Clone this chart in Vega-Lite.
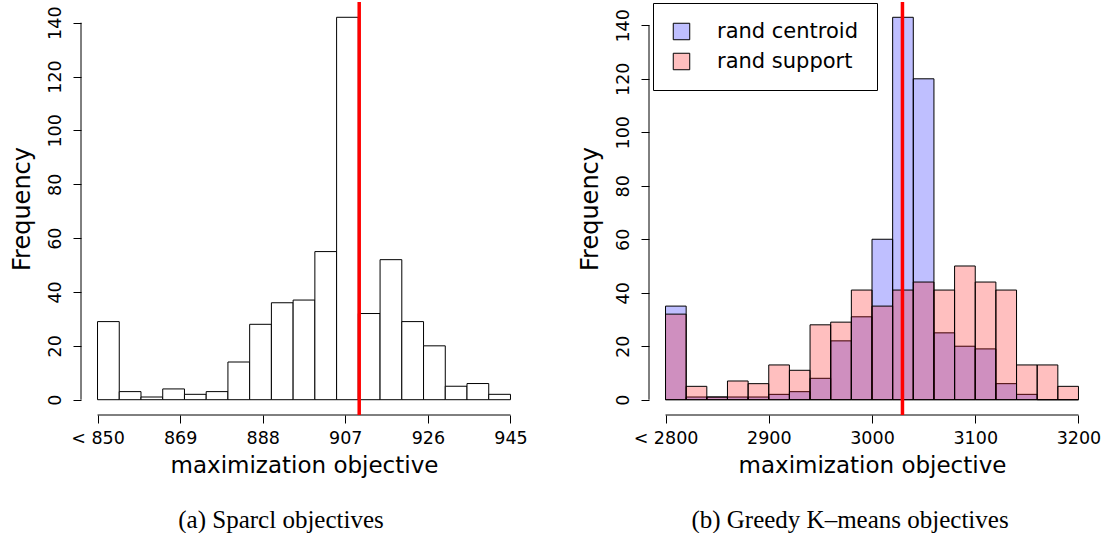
{
  "$schema": "https://vega.github.io/schema/vega-lite/v6.json",
  "background": "white",
  "padding": {"left": 10, "top": 0, "right": 0, "bottom": 0},
  "spacing": 50,
  "config": {
    "view": {"stroke": null},
    "axis": {
      "labelFont": "DejaVu Sans", "titleFont": "DejaVu Sans",
      "labelFontSize": 17.5, "titleFontSize": 23, "titleFontWeight": "normal",
      "labelColor": "black", "titleColor": "black", "tickColor": "black",
      "tickSize": 8, "tickWidth": 1, "grid": false, "domain": false,
      "labelOverlap": false, "labelFlush": false
    },
    "axisY": {"titleFontSize": 24}
  },
  "datasets": {
    "sparcl": [
      {"start": 850, "end": 855, "count": 29},
      {"start": 855, "end": 860, "count": 3},
      {"start": 860, "end": 865, "count": 1},
      {"start": 865, "end": 870, "count": 4},
      {"start": 870, "end": 875, "count": 2},
      {"start": 875, "end": 880, "count": 3},
      {"start": 880, "end": 885, "count": 14},
      {"start": 885, "end": 890, "count": 28},
      {"start": 890, "end": 895, "count": 36},
      {"start": 895, "end": 900, "count": 37},
      {"start": 900, "end": 905, "count": 55},
      {"start": 905, "end": 910, "count": 142},
      {"start": 910, "end": 915, "count": 32},
      {"start": 915, "end": 920, "count": 52},
      {"start": 920, "end": 925, "count": 29},
      {"start": 925, "end": 930, "count": 20},
      {"start": 930, "end": 935, "count": 5},
      {"start": 935, "end": 940, "count": 6},
      {"start": 940, "end": 945, "count": 2}
    ],
    "sparcl_ref": [{"objective": 910.2}],
    "greedy": [
      {"series": "rand centroid", "start": 2800, "end": 2820, "count": 35},
      {"series": "rand centroid", "start": 2820, "end": 2840, "count": 1},
      {"series": "rand centroid", "start": 2840, "end": 2860, "count": 1},
      {"series": "rand centroid", "start": 2860, "end": 2880, "count": 1},
      {"series": "rand centroid", "start": 2880, "end": 2900, "count": 1},
      {"series": "rand centroid", "start": 2900, "end": 2920, "count": 2},
      {"series": "rand centroid", "start": 2920, "end": 2940, "count": 3},
      {"series": "rand centroid", "start": 2940, "end": 2960, "count": 8},
      {"series": "rand centroid", "start": 2960, "end": 2980, "count": 22},
      {"series": "rand centroid", "start": 2980, "end": 3000, "count": 31},
      {"series": "rand centroid", "start": 3000, "end": 3020, "count": 60},
      {"series": "rand centroid", "start": 3020, "end": 3040, "count": 143},
      {"series": "rand centroid", "start": 3040, "end": 3060, "count": 120},
      {"series": "rand centroid", "start": 3060, "end": 3080, "count": 25},
      {"series": "rand centroid", "start": 3080, "end": 3100, "count": 20},
      {"series": "rand centroid", "start": 3100, "end": 3120, "count": 19},
      {"series": "rand centroid", "start": 3120, "end": 3140, "count": 6},
      {"series": "rand centroid", "start": 3140, "end": 3160, "count": 2},
      {"series": "rand centroid", "start": 3160, "end": 3180, "count": 0},
      {"series": "rand centroid", "start": 3180, "end": 3200, "count": 0},
      {"series": "rand support", "start": 2800, "end": 2820, "count": 32},
      {"series": "rand support", "start": 2820, "end": 2840, "count": 5},
      {"series": "rand support", "start": 2840, "end": 2860, "count": 1},
      {"series": "rand support", "start": 2860, "end": 2880, "count": 7},
      {"series": "rand support", "start": 2880, "end": 2900, "count": 6},
      {"series": "rand support", "start": 2900, "end": 2920, "count": 13},
      {"series": "rand support", "start": 2920, "end": 2940, "count": 11},
      {"series": "rand support", "start": 2940, "end": 2960, "count": 28},
      {"series": "rand support", "start": 2960, "end": 2980, "count": 29},
      {"series": "rand support", "start": 2980, "end": 3000, "count": 41},
      {"series": "rand support", "start": 3000, "end": 3020, "count": 35},
      {"series": "rand support", "start": 3020, "end": 3040, "count": 41},
      {"series": "rand support", "start": 3040, "end": 3060, "count": 44},
      {"series": "rand support", "start": 3060, "end": 3080, "count": 41},
      {"series": "rand support", "start": 3080, "end": 3100, "count": 50},
      {"series": "rand support", "start": 3100, "end": 3120, "count": 44},
      {"series": "rand support", "start": 3120, "end": 3140, "count": 41},
      {"series": "rand support", "start": 3140, "end": 3160, "count": 13},
      {"series": "rand support", "start": 3160, "end": 3180, "count": 13},
      {"series": "rand support", "start": 3180, "end": 3200, "count": 5}
    ],
    "greedy_ref": [{"objective": 3029.5}]
  },
  "hconcat": [
    {
      "width": 446,
      "height": 413,
      "title": {"text": "(a) Sparcl objectives", "orient": "bottom", "anchor": "middle", "frame": "group", "font": "Liberation Serif", "fontSize": 25, "fontWeight": "normal", "color": "black", "offset": 30, "dx": -23, "baseline": "top"},
      "layer": [
        {
          "data": {"name": "sparcl"},
          "mark": {"type": "bar", "fill": "white", "stroke": "black", "strokeWidth": 1},
          "encoding": {
            "x": {"field": "start", "type": "quantitative", "title": "maximization objective",
                  "scale": {"domain": [846.2, 948.8], "nice": false, "zero": false},
                  "axis": {"values": [850, 869, 888, 907, 926, 945], "format": "d",
                           "labelExpr": "datum.value == 850 ? '< 850' : datum.label",
                           "labelPadding": 6, "titlePadding": 8}},
            "x2": {"field": "end"},
            "y": {"field": "count", "type": "quantitative", "title": "Frequency",
                  "scale": {"domain": [-5.68, 147.68], "nice": false, "zero": false},
                  "axis": {"values": [0, 20, 40, 60, 80, 100, 120, 140], "labelAngle": 270,
                           "labelAlign": "center", "labelBaseline": "alphabetic",
                           "labelPadding": 12.5, "titlePadding": 12}},
            "y2": {"datum": 0}
          }
        },
        {
          "data": {"values": [{}]},
          "mark": {"type": "rule", "color": "black", "strokeWidth": 1},
          "encoding": {
            "x": {"datum": 846.2, "type": "quantitative", "title": "maximization objective"},
            "y": {"datum": 0, "type": "quantitative", "title": "Frequency"},
            "y2": {"datum": 140}
          }
        },
        {
          "data": {"values": [{}]},
          "mark": {"type": "rule", "color": "black", "strokeWidth": 1},
          "encoding": {
            "x": {"datum": 850, "type": "quantitative", "title": "maximization objective"},
            "x2": {"datum": 945},
            "y": {"datum": -5.68, "type": "quantitative", "title": "Frequency"}
          }
        },
        {
          "data": {"name": "sparcl_ref"},
          "mark": {"type": "rule", "color": "#ff0000", "strokeWidth": 3.5},
          "encoding": {
            "x": {"field": "objective", "type": "quantitative", "title": "maximization objective"}
          }
        }
      ]
    },
    {
      "width": 446,
      "height": 413,
      "title": {"text": "(b) Greedy K–means objectives", "orient": "bottom", "anchor": "middle", "frame": "group", "font": "Liberation Serif", "fontSize": 25, "fontWeight": "normal", "color": "black", "offset": 30, "dx": -22, "baseline": "top"},
      "layer": [
        {
          "data": {"name": "greedy"},
          "mark": {"type": "bar", "stroke": "black", "strokeWidth": 1},
          "encoding": {
            "x": {"field": "start", "type": "quantitative", "title": "maximization objective",
                  "scale": {"domain": [2784, 3216], "nice": false, "zero": false},
                  "axis": {"values": [2800, 2900, 3000, 3100, 3200], "format": "d",
                           "labelExpr": "datum.value == 2800 ? '< 2800' : datum.label",
                           "labelPadding": 6, "titlePadding": 8}},
            "x2": {"field": "end"},
            "y": {"field": "count", "type": "quantitative", "title": "Frequency", "stack": null,
                  "scale": {"domain": [-5.72, 148.72], "nice": false, "zero": false},
                  "axis": {"values": [0, 20, 40, 60, 80, 100, 120, 140], "labelAngle": 270,
                           "labelAlign": "center", "labelBaseline": "alphabetic",
                           "labelPadding": 12.5, "titlePadding": 12}},
            "y2": {"datum": 0},
            "fill": {"field": "series", "type": "nominal",
                     "scale": {"domain": ["rand centroid", "rand support"], "range": ["rgba(0,0,255,0.25)", "rgba(255,0,0,0.25)"]},
                     "legend": {"orient": "none", "legendX": 572, "legendY": 1, "title": null,
                                "strokeColor": "black", "fillColor": "white", "padding": 18, "cornerRadius": 0,
                                "labelFont": "DejaVu Sans", "labelFontSize": 21, "labelColor": "black",
                                "symbolType": "square", "symbolSize": 272, "symbolStrokeColor": "black",
                                "symbolStrokeWidth": 1, "labelOffset": 25, "rowPadding": 8, "labelLimit": 400}}
          }
        },
        {
          "data": {"values": [{}]},
          "mark": {"type": "rule", "color": "black", "strokeWidth": 1},
          "encoding": {
            "x": {"datum": 2784, "type": "quantitative", "title": "maximization objective"},
            "y": {"datum": 0, "type": "quantitative", "title": "Frequency"},
            "y2": {"datum": 140}
          }
        },
        {
          "data": {"values": [{}]},
          "mark": {"type": "rule", "color": "black", "strokeWidth": 1},
          "encoding": {
            "x": {"datum": 2800, "type": "quantitative", "title": "maximization objective"},
            "x2": {"datum": 3200},
            "y": {"datum": -5.72, "type": "quantitative", "title": "Frequency"}
          }
        },
        {
          "data": {"name": "greedy_ref"},
          "mark": {"type": "rule", "color": "#ff0000", "strokeWidth": 3.5},
          "encoding": {
            "x": {"field": "objective", "type": "quantitative", "title": "maximization objective"}
          }
        }
      ]
    }
  ]
}
